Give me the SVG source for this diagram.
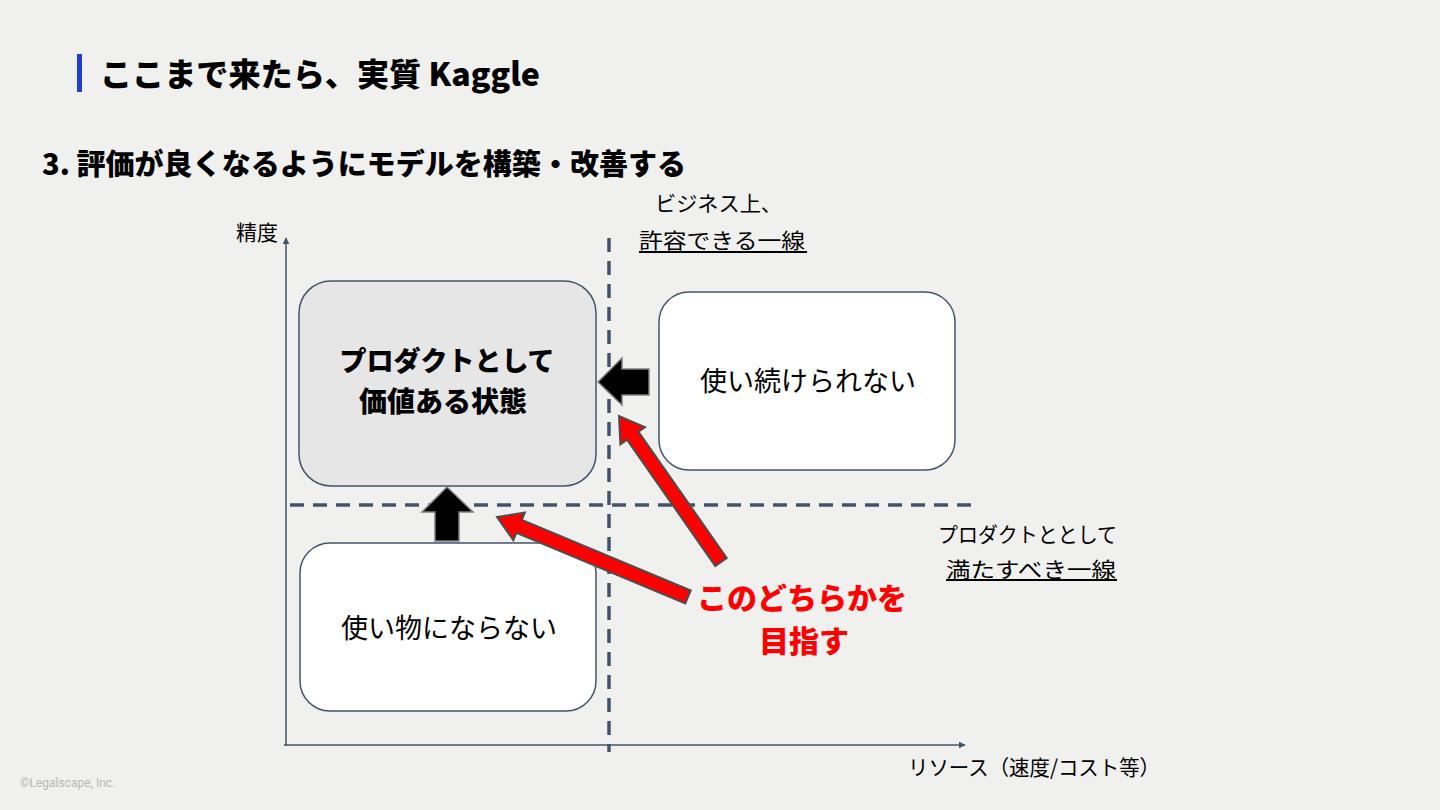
<svg xmlns="http://www.w3.org/2000/svg" width="1440" height="810" viewBox="0 0 1440 810">
<defs>
<style>
.t{font-family:"Noto Sans CJK JP","Noto Sans",sans-serif;fill:#000}
.b{font-weight:bold}
.h{font-weight:900}
.box{stroke:#44546a;stroke-width:1.5}
.dash{stroke:#44546a;stroke-width:3.5;stroke-dasharray:14 9;fill:none}
.axis{stroke:#44546a;stroke-width:1.5;fill:none}
.blk{fill:#000;stroke:#7f7f7f;stroke-width:1.5}
.red{fill:#ff0000;stroke:#4d4d4d;stroke-width:2;stroke-linejoin:miter}
.ul{stroke:#000;stroke-width:1.8}
</style>
<marker id="ah" viewBox="0 0 10 10" refX="9" refY="5" markerWidth="7" markerHeight="7" orient="auto" markerUnits="userSpaceOnUse">
<path d="M0,0 L10,5 L0,10 z" fill="#44546a"/>
</marker>
</defs>
<rect width="1440" height="810" fill="#f0f0ef"/>
<g id="header">
<rect x="77" y="54" width="5" height="38" fill="#1f3fcf"/>
<text class="t h" x="100" y="86" font-size="32" textLength="440" lengthAdjust="spacingAndGlyphs">ここまで来たら、実質 Kaggle</text>
<text class="t h" x="42" y="175" font-size="29" textLength="644" lengthAdjust="spacingAndGlyphs">3. 評価が良くなるようにモデルを構築・改善する</text>
</g>
<g id="axes">
<line class="axis" x1="286" y1="746" x2="286" y2="238" marker-end="url(#ah)"/>
<line class="axis" x1="284" y1="745" x2="965" y2="745" marker-end="url(#ah)"/>
<text class="t" x="236" y="240" font-size="21">精度</text>
<text class="t" x="908" y="775" font-size="21" textLength="252" lengthAdjust="spacingAndGlyphs">リソース（速度/コスト等）</text>
</g>
<g id="node-value">
<rect class="box" x="299" y="281" width="297" height="205" rx="32" fill="#e6e6e6"/>
<text class="t h" x="447" y="371" font-size="27" text-anchor="middle">プロダクトとして</text>
<text class="t h" x="443" y="412" font-size="28" text-anchor="middle">価値ある状態</text>
</g>
<g id="node-unusable-cont">
<rect class="box" x="659" y="292" width="296" height="178" rx="30" fill="#fff"/>
<text class="t" x="808" y="391" font-size="27" text-anchor="middle">使い続けられない</text>
</g>
<g id="node-useless">
<rect class="box" x="300" y="543" width="296" height="168" rx="30" fill="#fff"/>
<text class="t" x="449" y="638" font-size="27" text-anchor="middle">使い物にならない</text>
</g>
<g id="connectors">
<line class="dash" x1="609" y1="238" x2="609" y2="752"/>
<line class="dash" x1="290" y1="505" x2="976" y2="505"/>
<polygon class="blk" points="598,382 622,358 622,369 649,369 649,395 622,395 622,405"/>
<polygon class="blk" points="447,487 473,512 459,512 459,541 435,541 435,512 422,512"/>
<polygon class="red" points="690.7,590.5 521.8,519.8 524.9,512.5 497,517 513.3,540.1 516.4,532.8 685.3,603.5"/>
<polygon class="red" points="726.7,558 638.5,431.7 645,427.1 619,416 620.4,444.3 627,439.7 715.3,566"/>
</g>
<g id="label-business">
<text class="t" x="655" y="211" font-size="21" textLength="127" lengthAdjust="spacingAndGlyphs">ビジネス上、</text>
<text class="t" x="639" y="248" font-size="21" textLength="166" lengthAdjust="spacingAndGlyphs">許容できる一線</text>
<line class="ul" x1="639" y1="252" x2="807" y2="252"/>
</g>
<g id="label-product">
<text class="t" x="938" y="542" font-size="21" textLength="179" lengthAdjust="spacingAndGlyphs">プロダクトととして</text>
<text class="t" x="946" y="577" font-size="21" textLength="170" lengthAdjust="spacingAndGlyphs">満たすべき一線</text>
<line class="ul" x1="946" y1="580" x2="1117" y2="580"/>
</g>
<g id="label-target">
<text class="t h" x="802" y="609" font-size="30" style="fill:#ff0000" text-anchor="middle">このどちらかを</text>
<text class="t h" x="804" y="652" font-size="30" style="fill:#ff0000" text-anchor="middle">目指す</text>
</g>
<text x="20" y="787" font-family="Roboto,sans-serif" font-size="12" fill="#b8b8b8">©Legalscape, Inc.</text>
</svg>
